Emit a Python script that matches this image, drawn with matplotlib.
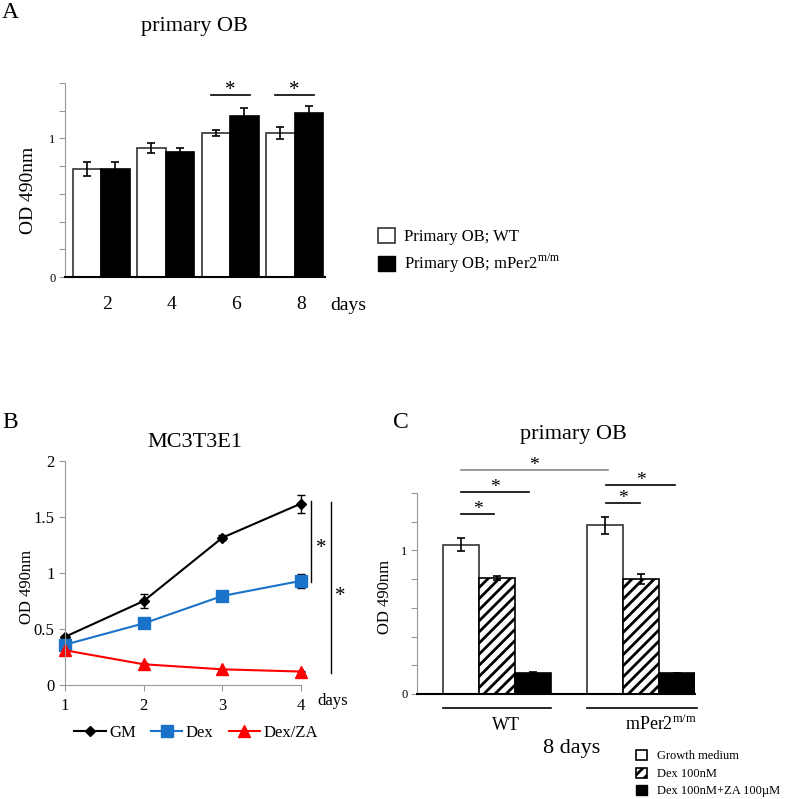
import numpy as np
import matplotlib
matplotlib.use("Agg")
import matplotlib.pyplot as plt
from matplotlib.patches import Patch
from matplotlib.lines import Line2D
from matplotlib.transforms import ScaledTranslation

plt.rcParams["font.family"] = ["Liberation Serif", "DejaVu Serif"]
plt.rcParams["mathtext.fontset"] = "custom"
plt.rcParams["mathtext.rm"] = "Liberation Serif"
plt.rcParams["hatch.linewidth"] = 2.0

W, H = 787, 799

# A: primary OB, WT vs mPer2 by day
days_a = ["2", "4", "6", "8"]
wt_a = [0.78, 0.93, 1.04, 1.04]
wt_a_err = [0.05, 0.035, 0.02, 0.045]
mut_a = [0.78, 0.90, 1.16, 1.18]
mut_a_err = [0.05, 0.03, 0.06, 0.055]
sig_a = [2, 3]

# B: MC3T3E1 time course
days_b = [1, 2, 3, 4]
gm = [0.43, 0.75, 1.315, 1.62]
gm_err = [0.01, 0.065, 0.02, 0.08]
dex = [0.36, 0.55, 0.795, 0.93]
dex_err = [0.01, 0.01, 0.015, 0.06]
dexza = [0.31, 0.185, 0.14, 0.12]
dexza_err = [0.01, 0.01, 0.005, 0.005]

# C: primary OB at 8 days
groups_c = ["WT", "mPer2$^{\\mathregular{m/m}}$"]
treat_c = ["Growth medium", "Dex 100nM", "Dex 100nM+ZA 100\u00b5M"]
vals_c = [[1.04, 0.81, 0.145], [1.175, 0.80, 0.145]]
errs_c = [[0.045, 0.015, 0.005], [0.058, 0.037, 0.0]]


def fx(x):
    return x / W


def fy(y):
    return 1 - y / H


def rect(l, t, r, b):
    return [fx(l), fy(b), (r - l) / W, (b - t) / H]


def style_bar_axes(ax):
    ax.spines["top"].set_visible(False)
    ax.spines["right"].set_visible(False)
    ax.spines["left"].set_color("#999999")
    ax.spines["left"].set_linewidth(0.8)
    ax.spines["bottom"].set_color("black")
    ax.spines["bottom"].set_linewidth(1.5)
    ax.set_ylim(0, 1.4)
    ticks = np.arange(0, 1.41, 0.2)
    ax.set_yticks(ticks)
    ax.set_yticklabels(["0", "", "", "", "", "1", "", ""])
    ax.tick_params(axis="y", colors="#999999", length=4, width=0.8, labelsize=9,
                   labelcolor="black", pad=3)


fig = plt.figure(figsize=(W / 100, H / 100), dpi=100)
ekw = dict(elinewidth=1.2, capthick=1.2, ecolor="black")

# ---------------- panel A
ax = fig.add_axes(rect(65, 83, 325, 277))
x = np.arange(len(days_a))
bw = 0.44
ax.bar(x - bw / 2, wt_a, bw, color="white", edgecolor="#333333", lw=1.2,
       yerr=wt_a_err, capsize=3, error_kw=ekw)
ax.bar(x + bw / 2, mut_a, bw, color="black", edgecolor="black", lw=1.2,
       yerr=mut_a_err, capsize=3, error_kw=ekw)
ax.set_xlim(-0.56, 3.47)
style_bar_axes(ax)
ax.set_xticks(x)
ax.set_xticklabels(days_a, fontsize=14)
ax.tick_params(axis="x", length=0, pad=14)
for lbl in ax.get_xticklabels():
    lbl.set_transform(lbl.get_transform() + ScaledTranslation(0.06, 0, fig.dpi_scale_trans))
ax.set_ylabel("OD 490nm", fontsize=14)
ax.yaxis.set_label_coords(-0.108, 0.448)
for g in sig_a:
    ax.plot([g - 0.3, g + 0.3], [1.313, 1.313], color="black", lw=1.2, clip_on=False)
    ax.text(g, 1.313, "*", ha="center", va="baseline", fontsize=15)

fig.text(fx(194), fy(31), "primary OB", ha="center", va="baseline", fontsize=16)
fig.text(fx(2), fy(18), "A", va="baseline", fontsize=17)
fig.text(fx(348), fy(310), "days", ha="center", va="baseline", fontsize=14)

fig.legend(handles=[Patch(facecolor="white", edgecolor="#333333", lw=1.2),
                    Patch(facecolor="black", edgecolor="black")],
           labels=["Primary OB; WT", "Primary OB; mPer2$^{\\mathregular{m/m}}$"],
           loc="upper left", bbox_to_anchor=(fx(378), fy(228)), frameon=False,
           fontsize=12, handlelength=1.0, handleheight=1.0, handletextpad=0.55,
           labelspacing=0.4, borderpad=0, borderaxespad=0)

# ---------------- panel B
ax = fig.add_axes(rect(65, 461, 301, 685))
series = [
    (gm, gm_err, "black", "D", 5, "GM"),
    (dex, dex_err, "#1a73c8", "s", 8, "Dex"),
    (dexza, dexza_err, "#ff0000", "^", 9, "Dex/ZA"),
]
handles = []
for vals, errs, col, mk, ms, name in series:
    cont = ax.errorbar(days_b, vals, yerr=errs, color=col, marker=mk, ms=ms, lw=1.5,
                       ecolor="black", elinewidth=1, capsize=3, capthick=1)
    for art in cont.get_children():
        art.set_clip_on(False)
    handles.append(Line2D([], [], color=col, marker=mk, ms=ms, lw=1.5, label=name))
ax.set_xlim(1, 4)
ax.set_ylim(0, 2)
for side in ["top", "right"]:
    ax.spines[side].set_visible(False)
for side in ["left", "bottom"]:
    ax.spines[side].set_color("#999999")
    ax.spines[side].set_linewidth(0.8)
ax.set_yticks([0, 0.5, 1, 1.5, 2])
ax.set_yticklabels(["0", "0.5", "1", "1.5", "2"])
ax.set_xticks(days_b)
ax.tick_params(colors="#999999", length=4, width=0.8, labelsize=12, labelcolor="black")
ax.tick_params(axis="x", pad=5)
ax.set_ylabel("OD 490nm", fontsize=12)
ax.yaxis.set_label_coords(-0.127, 0.44)
ax.plot([4.127, 4.127], [0.92, 1.643], color="black", lw=1, clip_on=False)
ax.plot([4.381, 4.381], [0.107, 1.634], color="black", lw=1, clip_on=False)
ax.text(4.254, 1.22, "*", ha="center", va="center", fontsize=15, clip_on=False)
ax.text(4.496, 0.79, "*", ha="center", va="center", fontsize=15, clip_on=False)

fig.text(fx(195), fy(447), "MC3T3E1", ha="center", va="baseline", fontsize=16)
fig.text(fx(2), fy(428), "B", va="baseline", fontsize=17)
fig.text(fx(333), fy(705), "days", ha="center", va="baseline", fontsize=12)
fig.legend(handles=handles, loc="center left", bbox_to_anchor=(fx(74), fy(733)),
           ncol=3, frameon=False, fontsize=12, handlelength=1.9, handletextpad=0.2,
           columnspacing=0.9, borderpad=0, borderaxespad=0)

# ---------------- panel C
ax = fig.add_axes(rect(417, 493, 695, 694))
styles = [
    dict(color="white", edgecolor="#333333"),
    dict(color="white", edgecolor="black", hatch="///"),
    dict(color="black", edgecolor="black"),
]
for i in range(len(treat_c)):
    xs = [i, i + 4]
    ax.bar(xs, [vals_c[0][i], vals_c[1][i]], 1.0, lw=1.2,
           yerr=[errs_c[0][i], errs_c[1][i]], capsize=3, error_kw=ekw, **styles[i])
ax.set_xlim(-1.22, 6.5)
style_bar_axes(ax)
ax.set_xticks([])
ax.set_ylabel("OD 490nm", fontsize=12)
ax.yaxis.set_label_coords(-0.086, 0.483)

# significance brackets (x from, x to, y, colour)
brackets = [
    (0, 4.08, 1.559, "#888888"),
    (0, 1.9, 1.41, "black"),
    (0, 0.93, 1.255, "black"),
    (4.03, 5.94, 1.458, "black"),
    (4.03, 4.97, 1.331, "black"),
]
for x0, x1, y, col in brackets:
    ax.plot([x0, x1], [y, y], color=col, lw=1.2, clip_on=False)
    ax.text((x0 + x1) / 2, y, "*", ha="center", va="baseline", fontsize=14, clip_on=False)

ax.plot([-0.5, 2.5], [-0.097, -0.097], color="black", lw=1.2, clip_on=False)
ax.plot([3.5, 6.56], [-0.097, -0.097], color="black", lw=1.2, clip_on=False)
fig.text(fx(506), fy(730), groups_c[0], ha="center", va="baseline", fontsize=13)
fig.text(fx(661), fy(730), groups_c[1], ha="center", va="baseline", fontsize=13)
fig.text(fx(572), fy(753), "8 days", ha="center", va="baseline", fontsize=16)

fig.text(fx(573), fy(439), "primary OB", ha="center", va="baseline", fontsize=16)
fig.text(fx(393), fy(428), "C", va="baseline", fontsize=17)

fig.legend(handles=[Patch(facecolor="white", edgecolor="black", lw=1.2),
                    Patch(facecolor="white", edgecolor="black", hatch="///", lw=1.2),
                    Patch(facecolor="black", edgecolor="black")],
           labels=treat_c, loc="upper left", bbox_to_anchor=(fx(636), fy(750)),
           frameon=False, fontsize=9, handlelength=0.85, handleheight=0.85,
           handletextpad=0.8, labelspacing=0.42, borderpad=0, borderaxespad=0)

fig.savefig("out.png", dpi=100)
